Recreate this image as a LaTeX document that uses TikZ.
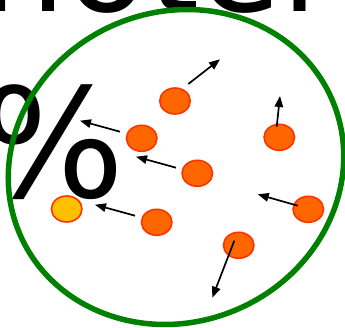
\documentclass[tikz,border=0pt]{standalone}
\usepackage{fontspec}
\newfontfamily\dejavu{DejaVu Sans}
\usetikzlibrary{arrows.meta,shapes.geometric}
\definecolor{dotfill}{HTML}{FF6600}
\definecolor{dotline}{HTML}{FF3300}
\definecolor{yellowfill}{HTML}{FFC000}
\definecolor{ringgreen}{HTML}{008000}
\begin{document}
\begin{tikzpicture}[x=1pt,y=-1pt,
  particle/.style={ellipse, draw=dotline, fill=dotfill, line width=1.6pt,
    minimum width=30.5pt, minimum height=26pt, inner sep=0pt},
  slowparticle/.style={particle, fill=yellowfill},
  move/.style={-{Triangle[length=11pt,width=8.5pt]}, line width=1.7pt, black},
  bigtext/.style={anchor=base west, inner sep=0pt, text=black}]
\useasboundingbox (0,0) rectangle (345,328);
\clip (0,0) rectangle (345,328);
% large cropped text
\node[bigtext, font=\dejavu\fontsize{133pt}{133pt}\selectfont] (word) at (-18.3,12) {hotel};
\node[bigtext, font=\dejavu\fontsize{152pt}{152pt}\selectfont] (pct) at (-20,198) {\%};
% container
\draw[ringgreen, line width=5.5pt, rotate around={23.4:(176,167)}] (176,167) ellipse [x radius=170, y radius=155];
% particles
\node[particle] (pA) at (175,101) {};
\node[particle] (pB) at (141.7,138.3) {};
\node[particle] (pC) at (197.3,173.3) {};
\node[particle] (pD) at (279.3,137.3) {};
\node[particle] (pE) at (308.3,209.3) {};
\node[particle] (pF) at (156.7,222.3) {};
\node[particle] (pG) at (238.7,245.3) {};
\node[slowparticle] (pY) at (66.7,209) {};
% velocity arrows
\coordinate (a0) at (188.3,84);   \coordinate (a1) at (220,59.3);
\coordinate (b0) at (120,131.7);  \coordinate (b1) at (80,120.7);
\coordinate (c0) at (176,167.7);  \coordinate (c1) at (136,156.7);
\coordinate (d0) at (276.7,126.7); \coordinate (d1) at (280,96);
\coordinate (e0) at (297.7,205.7); \coordinate (e1) at (257.7,194.3);
\coordinate (f0) at (135,215.7);  \coordinate (f1) at (95,204.7);
\coordinate (g0) at (234.3,240.7); \coordinate (g1) at (212.3,297.7);
\draw[move] (a0) -- (a1);
\draw[move] (b0) -- (b1);
\draw[move] (c0) -- (c1);
\draw[move] (d0) -- (d1);
\draw[move] (e0) -- (e1);
\draw[move] (f0) -- (f1);
\draw[move] (g0) -- (g1);
\end{tikzpicture}
\end{document}
